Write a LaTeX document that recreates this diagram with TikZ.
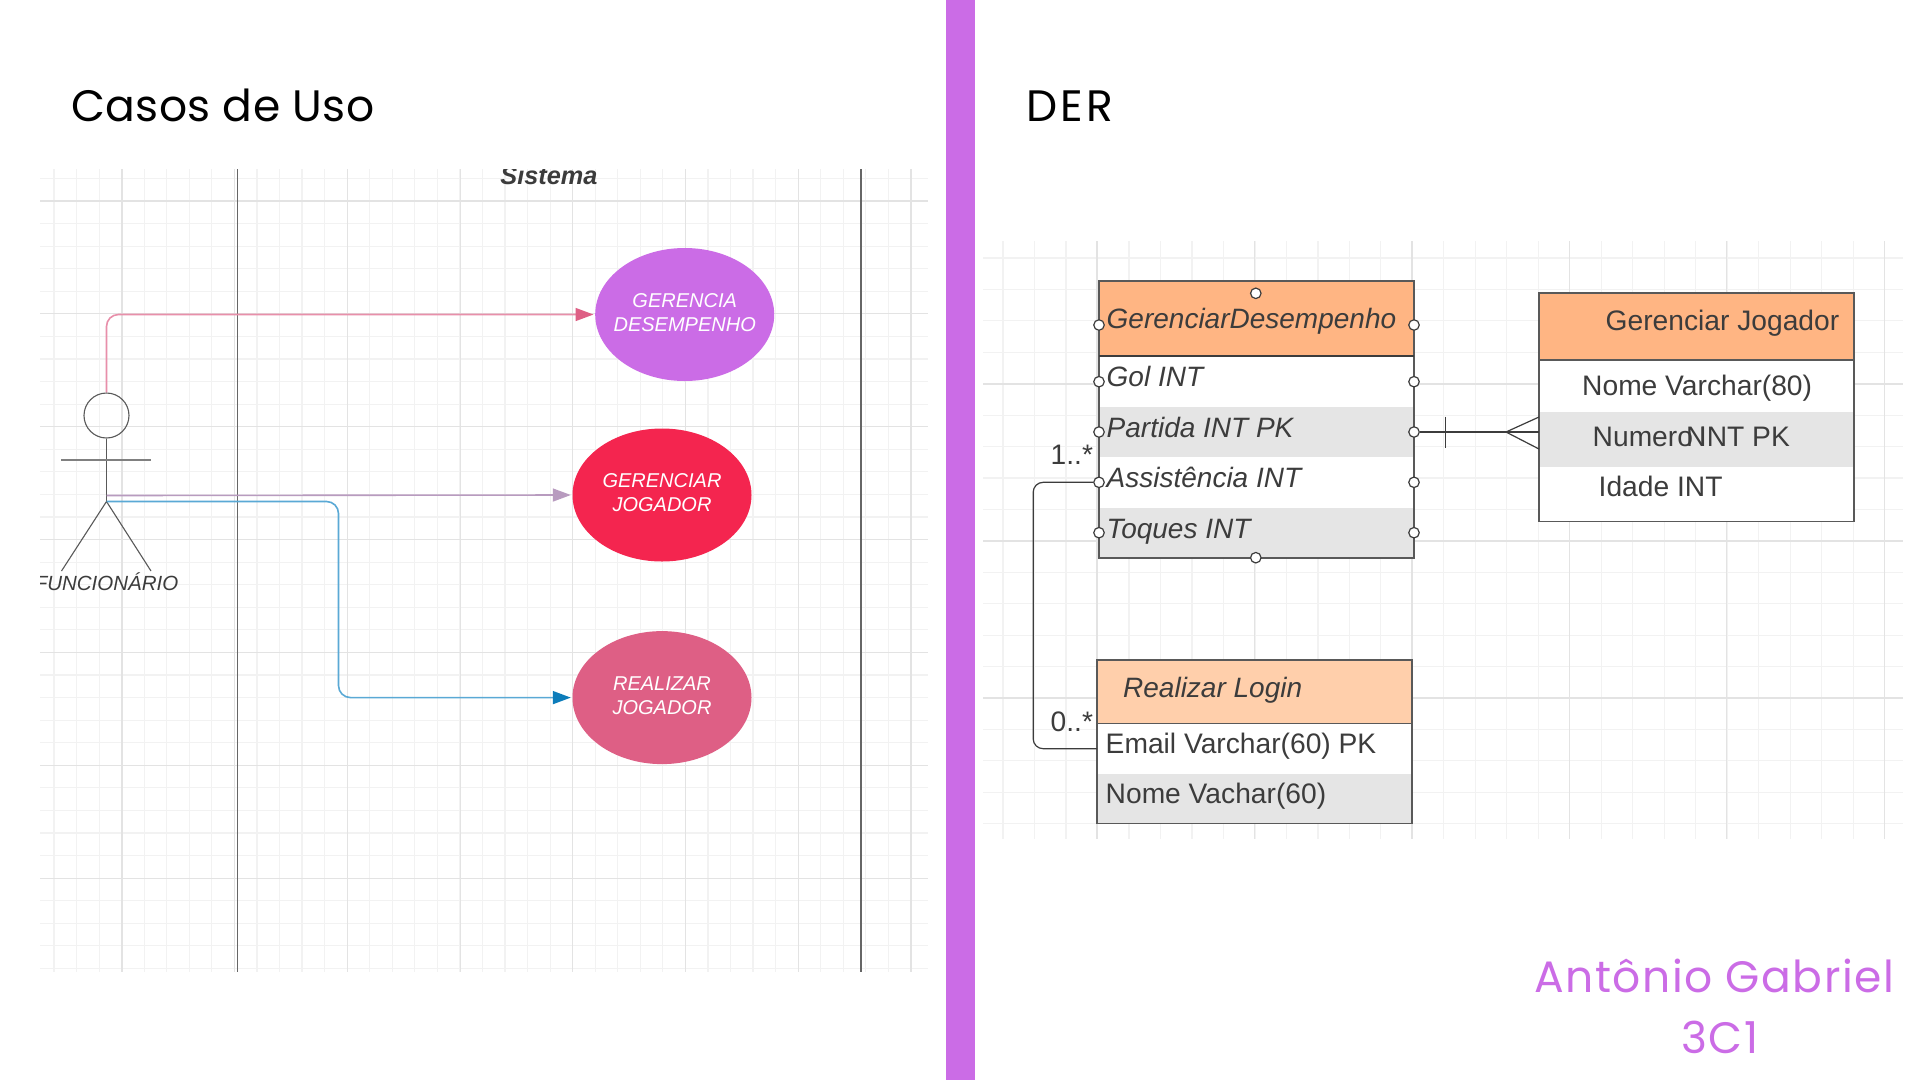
\documentclass[tikz,border=0pt]{standalone}
\usepackage{fontspec}
\setmainfont{Liberation Sans}
\newfontfamily\titlefont[LetterSpace=1]{Poppins}
\newfontfamily\widetitlefont[LetterSpace=8]{Poppins}
\newfontfamily\signfont[LetterSpace=3.5]{Poppins}
\usetikzlibrary{shapes.geometric,arrows.meta}
\definecolor{violeta}{HTML}{CB6CE6}
\definecolor{vermelho}{HTML}{F4254F}
\definecolor{rosa}{HTML}{DE5F85}
\definecolor{malva}{HTML}{B89BBF}
\definecolor{azul}{HTML}{0C7CBA}
\definecolor{azulclaro}{HTML}{5AA9D5}
\definecolor{laranja}{HTML}{FFB583}
\definecolor{pessego}{HTML}{FFCFAB}
\definecolor{cinza}{HTML}{E5E5E5}
\definecolor{tinta}{HTML}{3C3C3C}
\tikzset{
	gridminor/.style={draw=black!5,line width=1.2pt},
	gridmajor/.style={draw=black!11,line width=1.2pt},
	usecase/.style={ellipse,minimum width=179pt,minimum height=133pt,inner sep=-30pt,text=white},
	titletxt/.style={anchor=base west,inner sep=0pt,font=\titlefont\fontsize{44}{52}\selectfont},
	signtxt/.style={anchor=base west,inner sep=0pt,text=violeta,font=\signfont\fontsize{44}{52}\selectfont},
	celltxt/.style={anchor=base west,inner sep=0pt,text=tinta,font=\fontsize{28.2}{32}\selectfont},
	italictxt/.style={celltxt,font=\itshape\fontsize{28}{32}\selectfont},
	port/.style={circle,draw=tinta,fill=white,line width=1.2pt,minimum size=10.5pt,inner sep=0pt},
	rowbox/.style={rectangle,minimum width=315pt,inner sep=0pt,anchor=north west},
	tableline/.style={draw=black!65,line width=1.6pt},
	erline/.style={draw=tinta,line width=1.2pt},
	actorline/.style={draw=black!65,line width=1.1pt},
	flow/.style={line width=1.6pt,rounded corners=12pt,shorten >=1.5pt}
}
\begin{document}
\begin{tikzpicture}[x=1pt,y=-1pt]
	\useasboundingbox (0,0) rectangle (1920,1080);
	\fill[white] (0,0) rectangle (1920,1080);

	% titles and the bar between the panels
	\fill[violeta] (946,0) rectangle (975,1080);
	\node[titletxt] (titleuso) at (71,121){Casos de Uso};
	\node[titletxt,font=\widetitlefont\fontsize{44}{52}\selectfont] (titleder) at (1026,121){DER};

	% left grid
	\foreach \k in {0,...,38}
		\draw[gridminor] (54+22.55*\k,169) -- (54+22.55*\k,972);
	\foreach \k in {-1,...,34}
		\draw[gridminor] (40,201+22.57*\k) -- (928,201+22.57*\k);
	\foreach \k in {0,...,7}
		\draw[gridmajor] (122+112.7*\k,169) -- (122+112.7*\k,972);
	\foreach \k in {0,...,6}
		\draw[gridmajor] (40,201+112.85*\k) -- (928,201+112.85*\k);

	% system frame
	\draw[black!60,line width=1.3pt] (237.6,169) -- (237.6,972);
	\draw[black!60,line width=1.3pt] (861,169) -- (861,972);
	\begin{scope}
		\clip (40,169) rectangle (928,972);
		\node[text=tinta,font=\bfseries\itshape\fontsize{25.3}{28}\selectfont] (sistema) at (549,175.5){Sistema};
		\node[text=tinta,font=\itshape\fontsize{20.5}{24}\selectfont] (funcionario) at (106.5,582){FUNCION\'ARIO};
	\end{scope}

	% use cases
	\node[usecase,fill=violeta] (gerdes) at (684.7,314.5){\fontsize{20}{24}\selectfont\itshape\begin{tabular}{@{}c@{}}GERENCIA\\DESEMPENHO\end{tabular}};
	\node[usecase,fill=vermelho] (gerjog) at (662,495){\fontsize{20}{24}\selectfont\itshape\begin{tabular}{@{}c@{}}GERENCIAR\\JOGADOR\end{tabular}};
	\node[usecase,fill=rosa] (reajog) at (662,697.6){\fontsize{20}{24}\selectfont\itshape\begin{tabular}{@{}c@{}}REALIZAR\\JOGADOR\end{tabular}};

	% actor
	\node[circle,actorline,minimum size=45pt,inner sep=0pt] (actorhead) at (106.5,415.5){};
	\coordinate (actorbody) at (106.5,495.5);
	\coordinate (actorhip) at (106.5,501.5);
	\draw[actorline] (actorhead) -- (actorhip);
	\draw[draw=black!50,line width=1.6pt] (61,460) -- (151,460);
	\draw[actorline] (61.5,571) -- (actorhip) -- (151,571);

	% connectors of the use cases
	\draw[flow,draw=rosa!70,-{Triangle[length=18pt,width=13pt,color=rosa]}] (actorhead.north) |- (gerdes.west);
	\draw[flow,draw=malva,-{Triangle[length=18pt,width=13pt]}] (actorbody) -- (gerjog.west);
	\draw[flow,draw=azulclaro,-{Triangle[length=18pt,width=13pt,color=azul]}] (actorhip) -- ++(232,0) |- (reajog.west);

	% right grid
	\foreach \k in {0,...,28}
		\draw[gridminor] (1003+31.49*\k,241) -- (1003+31.49*\k,839);
	\foreach \k in {0,...,18}
		\draw[gridminor] (983,258+31.43*\k) -- (1903,258+31.43*\k);
	\foreach \k in {0,...,5}
		\draw[gridmajor] (1097+157.45*\k,241) -- (1097+157.45*\k,839);
	\foreach \k in {0,...,2}
		\draw[gridmajor] (983,384+157*\k) -- (1903,384+157*\k);

	% table GerenciarDesempenho
	\node[rowbox,fill=laranja,minimum height=75pt] (gdhead) at (1099,281){};
	\node[rowbox,fill=white,minimum height=50.5pt] (gdgol) at (1099,356){};
	\node[rowbox,fill=cinza,minimum height=50.5pt] (gdpartida) at (1099,406.5){};
	\node[rowbox,fill=white,minimum height=50.5pt] (gdassist) at (1099,457){};
	\node[rowbox,fill=cinza,minimum height=50.5pt] (gdtoques) at (1099,507.5){};
	\draw[tableline] (1099,281) rectangle (1414,558);
	\draw[tableline,draw=tinta] (1099,356) -- (1414,356);
	\node[italictxt] (gdtitle) at (1106.5,328){GerenciarDesempenho};
	\node[italictxt] (gdgoltxt) at (1106.5,386){Gol INT};
	\node[italictxt] (gdpartidatxt) at (1106.5,437){Partida INT PK};
	\node[italictxt] (gdassisttxt) at (1106.5,487){Assist\^encia INT};
	\node[italictxt] (gdtoquestxt) at (1106.5,538){Toques INT};

	% table Gerenciar Jogador
	\node[rowbox,fill=laranja,minimum height=67pt] (gjhead) at (1539,293){};
	\node[rowbox,fill=white,minimum height=51.5pt] (gjnome) at (1539,360){};
	\node[rowbox,fill=cinza,minimum height=55pt] (gjnumero) at (1539,411.5){};
	\node[rowbox,fill=white,minimum height=55pt] (gjidade) at (1539,466.5){};
	\draw[tableline] (1539,293) rectangle (1854,521.5);
	\draw[tableline] (1539,360) -- (1854,360);
	\node[celltxt] (gjtitle) at (1605.5,330.5){Gerenciar Jogador};
	\node[celltxt] (gjnometxt) at (1582,395){Nome Varchar(80)};
	\node[celltxt] (gjnumerotxt) at (1592.5,446){Numero\kern-7pt N\kern-7.4pt INT PK};
	\node[celltxt] (gjidadetxt) at (1598.5,496){Idade INT};

	% table Realizar Login
	\node[rowbox,fill=pessego,minimum height=63.5pt] (rlhead) at (1097,660){};
	\node[rowbox,fill=white,minimum height=50pt] (rlemail) at (1097,723.5){};
	\node[rowbox,fill=cinza,minimum height=50pt] (rlnome) at (1097,773.5){};
	\draw[tableline] (1097,660) rectangle (1412,823.5);
	\draw[tableline] (1097,723.5) -- (1412,723.5);
	\node[italictxt] (rltitle) at (1123,697){Realizar Login};
	\node[celltxt] (rlemailtxt) at (1105.5,753){Email Varchar(60) PK};
	\node[celltxt] (rlnometxt) at (1105.5,803){Nome Vachar(60)};

	% ports
	\node[port] (gdtop) at (1255.8,293.3){};
	\node[port] (gdbottom) at (1255.8,557.7){};
	\node[port] (gdL0) at (1099,325){};
	\node[port] (gdL1) at (1099,381.7){};
	\node[port] (gdL2) at (1099,432){};
	\node[port] (gdL3) at (1099,482.3){};
	\node[port] (gdL4) at (1099,532.7){};
	\node[port] (gdR0) at (1414,325){};
	\node[port] (gdR1) at (1414,381.7){};
	\node[port] (gdR2) at (1414,432){};
	\node[port] (gdR3) at (1414,482.3){};
	\node[port] (gdR4) at (1414,532.7){};

	% relations
	\coordinate (gjin) at (1539,432);
	\coordinate (gjfoot) at (1506,432);
	\draw[erline] (gdR2) -- (gjin);
	\draw[erline] (1445.6,416.7) -- (1445.6,447.7);
	\draw[erline] (1539,417) -- (gjfoot) -- (1539,449);
	\draw[erline,rounded corners=10pt] (gdL3.west) -- ++(-60,0) |- (rlemail.west);
	\node[celltxt] (cardum) at (1050.5,464){1..*};
	\node[celltxt] (cardzero) at (1050.5,731){0..*};

	% signature
	\node[signtxt] (assinatura) at (1534,992.5){Ant\^onio Gabriel};
	\node[signtxt] (turma) at (1681,1053){3C1};
\end{tikzpicture}
\end{document}
